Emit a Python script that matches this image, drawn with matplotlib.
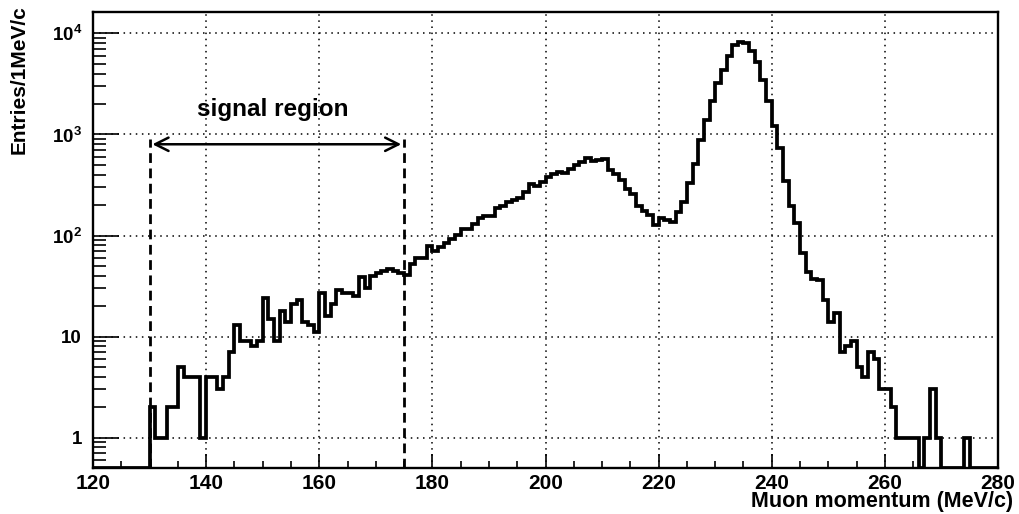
import numpy as np
import matplotlib
matplotlib.use("Agg")
import matplotlib.pyplot as plt
from matplotlib.ticker import LogLocator, NullFormatter, MultipleLocator

plt.rcParams["font.family"] = ["Liberation Sans", "DejaVu Sans"]
plt.rcParams["font.weight"] = "bold"
plt.rcParams["mathtext.fontset"] = "custom"
plt.rcParams["mathtext.rm"] = "Liberation Sans:bold"
plt.rcParams["mathtext.it"] = "Liberation Sans:bold"
plt.rcParams["mathtext.bf"] = "Liberation Sans:bold"

# 1 MeV/c bins from 120 to 280
bin_edges = np.arange(120, 281, 1)
counts = [
    0, 0, 0, 0, 0, 0, 0, 0, 0, 0,                   # 120-129
    2, 1, 1, 2, 2, 5, 4, 4, 4, 1,                   # 130-139
    4, 4, 3, 4, 7, 13, 9, 9, 8, 9,                  # 140-149
    24, 15, 9, 18, 14, 21, 23, 14, 13, 11,          # 150-159
    27, 16, 21, 29, 27, 27, 25, 39, 30, 40,         # 160-169
    43, 45, 47, 45, 43, 41, 52, 60, 60, 79,         # 170-179
    71, 77, 85, 93, 102, 115, 115, 130, 149, 157,   # 180-189
    157, 187, 197, 217, 226, 234, 272, 324, 309, 341,  # 190-199
    376, 405, 427, 411, 451, 497, 535, 591, 543, 556,  # 200-209
    577, 440, 410, 352, 290, 258, 197, 173, 159, 126,  # 210-219
    148, 141, 136, 169, 216, 333, 506, 888, 1394, 2162,  # 220-229
    3206, 4338, 6000, 7705, 8240, 8120, 6730, 5160, 3460, 2160,  # 230-239
    1200, 739, 347, 195, 132, 67, 44, 37, 36, 23,   # 240-249
    14, 17, 7, 8, 9, 5, 4, 7, 6, 3,                 # 250-259
    3, 2, 1, 1, 1, 1, 0, 1, 3, 1,                   # 260-269
    0, 0, 0, 0, 1, 0, 0, 0, 0, 0,                   # 270-279
]

signal_lo = 130
signal_hi = 175
y_min, y_max = 0.5, 16300
x_min, x_max = 120, 280

counts = np.array(counts, dtype=float)
drawn = np.where(counts > 0, counts, y_min)

fig = plt.figure(figsize=(10.19, 5.14), dpi=100)
ax = fig.add_axes([93 / 1019, 46 / 514, 905 / 1019, 456 / 514])

ax.stairs(drawn, bin_edges, baseline=None, color="black", lw=2.7, zorder=3)

ax.set_yscale("log")
ax.set_xlim(x_min, x_max)
ax.set_ylim(y_min, y_max)

ax.set_yticks([1, 10, 100, 1000, 10000],
              labels=["1", "10", r"$10^{2}$", r"$10^{3}$", r"$10^{4}$"])
ax.yaxis.set_minor_locator(LogLocator(base=10, subs=np.arange(2, 10), numticks=20))
ax.yaxis.set_minor_formatter(NullFormatter())
ax.xaxis.set_major_locator(MultipleLocator(20))
ax.xaxis.set_minor_locator(MultipleLocator(5))

ax.tick_params(axis="both", which="both", direction="in", top=False, right=False,
               width=1.2, labelsize=15)
ax.tick_params(axis="x", which="major", length=10, pad=4)
ax.tick_params(axis="x", which="minor", length=5)
ax.tick_params(axis="y", which="major", length=19, pad=8, labelsize=13.5)
ax.tick_params(axis="y", which="minor", length=9.5)

for sp in ax.spines.values():
    sp.set_linewidth(1.7)

ax.grid(True, which="major", color="black", linestyle=(0, (1, 3)), lw=1.1)

# signal region markers
ax.vlines([signal_lo, signal_hi], y_min, 900, colors="black",
          linestyles=(0, (3.5, 2)), lw=2.0, zorder=4)
ax.annotate("", xy=(130.5, 800), xytext=(174.5, 800),
            arrowprops=dict(arrowstyle="<->", lw=1.8, color="black",
                            mutation_scale=24, shrinkA=0, shrinkB=0))
ax.text(151.8, 1750, "signal region", ha="center", va="center",
        fontsize=17.5, fontweight="bold")

fig.text(1013 / 1019, 1 - 501 / 514, "Muon momentum (MeV/c)", ha="right",
         va="center", fontsize=15.5, fontweight="bold")
fig.text(19 / 1019, 1 - 5 / 514, "Entries/1MeV/c", ha="center", va="top",
         rotation=90, fontsize=15, fontweight="bold")

fig.savefig("out.png", dpi=100)
